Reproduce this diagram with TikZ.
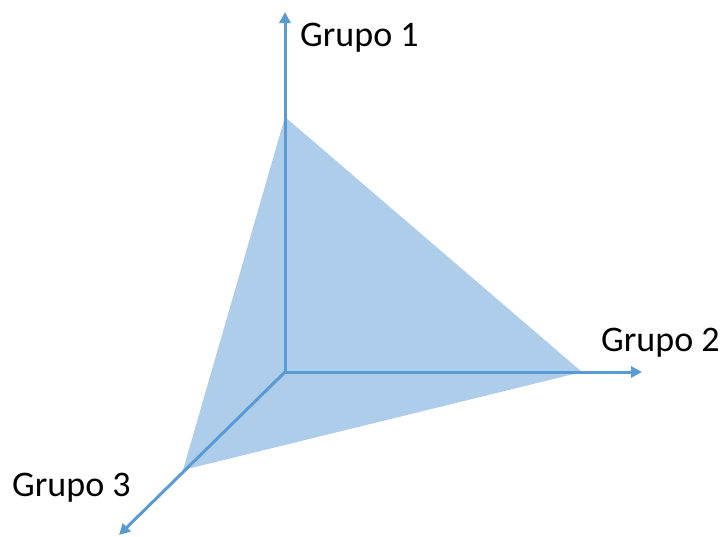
\documentclass[tikz,border=0pt]{standalone}
\usepackage{fontspec}
\setmainfont{Carlito}
\usetikzlibrary{arrows.meta}
\definecolor{axisblue}{HTML}{5B9BD5}
\begin{document}
\begin{tikzpicture}[x=1pt,y=-1pt,
  axis/.style={draw=axisblue,line width=3pt,-{Triangle[length=11pt,width=11pt]}},
  face/.style={fill=axisblue,fill opacity=0.5,draw=none},
  lbl/.style={font=\fontsize{36}{42}\selectfont,anchor=base west,inner sep=0pt}]
\useasboundingbox (0,0) rectangle (725,536);
\coordinate (O) at (285,372);
\coordinate (A) at (285,117);
\coordinate (B) at (582,372);
\coordinate (C) at (183,470);
\coordinate (T1) at (285,12);
\coordinate (T2) at (642,372);
\coordinate (T3) at (119,535);
\path[face] (A) -- (B) -- (C) -- cycle;
\draw[axis] (O) -- (T1);
\draw[axis] (O) -- (T2);
\draw[axis] (O) -- (T3);
\node[lbl] (g1) at (300,46) {Grupo 1};
\node[lbl] (g2) at (601,351) {Grupo 2};
\node[lbl] (g3) at (12,496) {Grupo 3};
\end{tikzpicture}
\end{document}
